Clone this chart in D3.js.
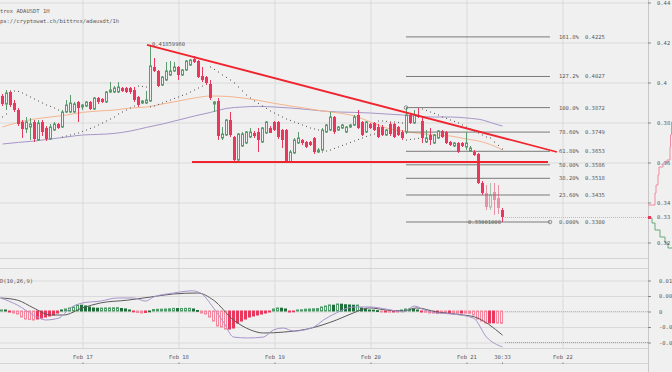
<!DOCTYPE html>
<html>
<head>
<meta charset="utf-8">
<script src="https://cdn.jsdelivr.net/npm/d3@7"></script>
<style>
  html, body { margin: 0; padding: 0; background: #f0f0f0; overflow: hidden; }
  svg { display: block; }
  text { font-family: "DejaVu Sans Mono", monospace; font-size: 5.5px; fill: #5a5a5a; }
</style>
</head>
<body>
<svg id="chart" width="672" height="372"></svg>
<script>
// hourly candles, first one is Feb 16 04:00 (hour -20 from Feb 17 00:00)
const firstHour = -20;
// [open, high, low, close]
const ohlc = [
  [0.393,0.394,0.388,0.389],[0.389,0.396,0.386,0.3945],[0.395,0.3955,0.3875,0.3885],[0.3895,0.391,0.385,0.386],
  [0.386,0.387,0.378,0.379],[0.380,0.381,0.372,0.3765],[0.3765,0.3825,0.3745,0.380],[0.3775,0.382,0.371,0.379],
  [0.380,0.381,0.370,0.3715],[0.371,0.381,0.3705,0.3795],[0.380,0.381,0.373,0.375],[0.377,0.378,0.3705,0.3715],
  [0.3715,0.379,0.371,0.3775],[0.376,0.380,0.3755,0.379],[0.379,0.3795,0.3765,0.377],[0.3775,0.386,0.377,0.385],
  [0.385,0.391,0.3845,0.3885],[0.385,0.3935,0.3845,0.3895],[0.385,0.390,0.3845,0.389],[0.390,0.3905,0.380,0.387],
  [0.3875,0.389,0.386,0.3885],[0.388,0.3905,0.3875,0.390],[0.390,0.3905,0.386,0.3865],[0.3865,0.3925,0.386,0.392],
  [0.392,0.3925,0.389,0.390],[0.3915,0.392,0.3895,0.390],[0.390,0.3955,0.3895,0.395],[0.395,0.400,0.3945,0.396],
  [0.395,0.398,0.3945,0.397],[0.395,0.400,0.3945,0.3975],[0.397,0.3975,0.395,0.3955],[0.397,0.3975,0.3945,0.395],
  [0.397,0.3975,0.394,0.395],[0.396,0.3975,0.390,0.391],[0.3925,0.393,0.3875,0.3885],[0.3895,0.391,0.389,0.3905],
  [0.3895,0.3955,0.389,0.391],[0.3905,0.4186,0.390,0.408],[0.4075,0.412,0.405,0.4055],[0.4055,0.406,0.3975,0.398],
  [0.3985,0.403,0.398,0.4025],[0.401,0.410,0.4005,0.4055],[0.4035,0.4105,0.403,0.4055],[0.4055,0.410,0.405,0.4075],
  [0.4075,0.408,0.401,0.4035],[0.4035,0.4065,0.403,0.406],[0.406,0.411,0.4055,0.4105],[0.4085,0.4115,0.408,0.411],
  [0.4115,0.413,0.4095,0.410],[0.4105,0.411,0.402,0.4025],[0.403,0.4075,0.400,0.401],[0.4025,0.403,0.3985,0.3995],
  [0.399,0.401,0.391,0.392],[0.389,0.3905,0.385,0.390],[0.3905,0.392,0.371,0.373],[0.372,0.3775,0.371,0.374],
  [0.3735,0.3815,0.373,0.381],[0.381,0.385,0.3725,0.3735],[0.3725,0.373,0.360,0.361],[0.361,0.3745,0.360,0.374],
  [0.368,0.375,0.3675,0.374],[0.3695,0.3755,0.369,0.375],[0.3725,0.377,0.372,0.375],[0.3745,0.3755,0.372,0.373],
  [0.375,0.377,0.365,0.371],[0.370,0.3775,0.3695,0.377],[0.3745,0.3805,0.374,0.380],[0.377,0.378,0.3745,0.3745],
  [0.380,0.3805,0.3755,0.376],[0.380,0.3805,0.3715,0.3725],[0.376,0.3765,0.367,0.371],[0.376,0.3765,0.3595,0.360],
  [0.360,0.366,0.3595,0.365],[0.3645,0.372,0.364,0.371],[0.3695,0.375,0.369,0.372],[0.371,0.3715,0.3685,0.3695],
  [0.370,0.3705,0.367,0.3675],[0.370,0.3705,0.368,0.3685],[0.372,0.3725,0.364,0.365],[0.365,0.367,0.3645,0.366],
  [0.366,0.377,0.3655,0.376],[0.375,0.379,0.3745,0.3785],[0.376,0.385,0.3755,0.3825],[0.3825,0.383,0.374,0.375],
  [0.376,0.378,0.3755,0.3775],[0.377,0.379,0.3765,0.3785],[0.375,0.378,0.3745,0.3775],[0.3775,0.379,0.377,0.3785],
  [0.3785,0.3835,0.378,0.3825],[0.3835,0.386,0.3765,0.377],[0.380,0.3805,0.373,0.3735],[0.375,0.3805,0.3745,0.380],
  [0.379,0.3795,0.3765,0.377],[0.3795,0.380,0.3755,0.376],[0.3775,0.379,0.372,0.3725],[0.3775,0.3785,0.373,0.3735],
  [0.3735,0.3765,0.373,0.376],[0.379,0.380,0.373,0.374],[0.379,0.3795,0.372,0.3725],[0.3775,0.378,0.373,0.3735],
  [0.375,0.376,0.371,0.372],[0.375,0.387,0.374,0.3835],[0.3835,0.384,0.379,0.3795],[0.3795,0.386,0.379,0.3835],
  [0.3835,0.387,0.382,0.3825],[0.3805,0.3825,0.3695,0.372],[0.370,0.376,0.3695,0.372],[0.3735,0.377,0.3685,0.371],
  [0.3695,0.374,0.369,0.3735],[0.372,0.376,0.3715,0.3755],[0.3755,0.376,0.372,0.3725],[0.375,0.3755,0.369,0.3695],
  [0.370,0.3705,0.368,0.3685],[0.368,0.370,0.3675,0.3695],[0.3695,0.370,0.3645,0.365],[0.3695,0.370,0.3675,0.368],
  [0.3675,0.375,0.366,0.3695],[0.3655,0.368,0.365,0.367],[0.365,0.366,0.363,0.3635],[0.364,0.3645,0.349,0.3495],
  [0.3495,0.3505,0.3435,0.3445],[0.3445,0.3485,0.336,0.3375],[0.3375,0.3495,0.336,0.3435],[0.345,0.3495,0.3335,0.341],
  [0.342,0.3485,0.334,0.337],[0.336,0.337,0.330,0.3325]
];

// parabolic SAR dots, one per candle
const sar = [
  0.3825,0.384,0.3955,0.3955,0.3953,0.3945,0.3935,0.3925,0.3915,0.3905,0.3895,0.3885,0.3878,0.387,0.386,
  0.3725,0.373,0.3735,0.374,0.3745,0.3753,0.376,0.3768,0.3775,0.3785,0.3795,0.3805,0.3815,0.3825,0.384,
  0.385,0.386,0.387,0.388,0.398,0.3978,0.3975,0.3875,0.388,0.3888,0.3895,0.3903,0.391,0.3918,0.3925,
  0.3933,0.394,0.395,0.396,0.397,0.398,0.399,0.4075,0.4063,0.405,0.4035,0.4023,0.401,0.3995,0.3975,
  0.3955,0.3935,0.392,0.3905,0.3893,0.388,0.3868,0.3855,0.3845,0.3835,0.3825,0.3815,0.3808,0.380,0.3793,
  0.3785,0.3778,0.377,0.3765,0.376,0.365,0.3655,0.366,0.3668,0.3675,0.3683,0.369,0.3698,0.3705,0.3713,
  0.372,0.3728,0.3735,0.374,0.3805,0.3805,0.3803,0.380,0.380,0.3798,0.3795,0.371,0.3713,0.3715,0.3718,
  0.3865,0.3858,0.385,0.3843,0.3835,0.3825,0.3818,0.381,0.3803,0.3795,0.3785,0.3775,0.3765,0.3755,0.3745,
  0.3735,0.3725,0.372,0.370,0.3683,0.3665
];

// moving averages [hour, price]
const maFast = [
  [-20,0.3775],[-16,0.3798],[-12,0.3815],[-8,0.3825],[-4,0.3835],[0,0.3848],[4,0.3855],[8,0.386],
  [12,0.387],[16,0.3875],[20,0.389],[24,0.3905],[28,0.392],[32,0.393],[36,0.3928],[40,0.392],
  [44,0.3908],[48,0.3893],[52,0.388],[56,0.3868],[60,0.3855],[64,0.3845],[68,0.383],[72,0.380],
  [76,0.377],[80,0.3755],[84,0.3743],[88,0.3735],[92,0.373],[96,0.3715],[100,0.370],[104,0.367],[105,0.366]
];
const maSlow = [
  [-20,0.369],[-16,0.3698],[-12,0.3705],[-8,0.3715],[-4,0.3725],[0,0.3735],[4,0.3738],[8,0.3743],
  [12,0.3755],[16,0.3773],[20,0.379],[24,0.381],[28,0.383],[32,0.3848],[36,0.3868],[40,0.3875],
  [44,0.3878],[48,0.3875],[52,0.387],[56,0.3863],[60,0.3855],[64,0.385],[68,0.3848],[72,0.3845],
  [76,0.384],[80,0.3835],[84,0.3828],[88,0.3825],[92,0.3825],[96,0.382],[100,0.381],[104,0.3785],[105,0.378]
];

// MACD(10,26,9)
const macdLine = [
  [-20.5,0.0042],[-16.25,0.0019],[-12.25,-0.0013],[-9.25,-0.0029],[-6,-0.0023],[-3,0.001],[0,0.0026],
  [4.5,0.0032],[8.75,0.0042],[12.75,0.0042],[15.75,0.0032],[17.75,0.0045],[22.75,0.0058],[27.5,0.0065],
  [29.5,0.0058],[32.75,0.001],[35.25,-0.0036],[37.75,-0.0084],[41.25,-0.0087],[45.25,-0.0084],[47.75,-0.0061],
  [50.25,-0.0055],[52.75,-0.0065],[57.75,-0.0052],[60.25,-0.0029],[63.5,-0.0006],[67.75,0.0013],[71.75,0.0013],
  [76,0.0006],[80.25,-0.0003],[83,0.0016],[85.5,0.0003],[88.5,-0.0006],[92.75,-0.001],[97.75,-0.0023],
  [101,-0.0084],[105,-0.0116]
];
const signalLine = [
  [-20.5,0.0042],[-16.25,0.0035],[-12.25,0.001],[-8,-0.0013],[-4.75,-0.0013],[0,0.001],[4.5,0.0026],
  [11.25,0.0035],[17,0.0045],[22.75,0.0055],[28.75,0.0058],[32.75,0.0035],[37.75,-0.0029],[42,-0.0061],
  [45.25,-0.0071],[50.25,-0.0068],[56.25,-0.0058],[63.5,-0.0029],[67.75,-0.0006],[71.75,0.001],[76,0.0003],
  [80.25,0.0],[83.5,0.001],[88.5,-0.0003],[95.25,-0.0013],[98,-0.0019],[105,-0.0078]
];
const histogram = [
  0.00032,0.00032,-0.00032,-0.00065,-0.00097,-0.00194,-0.00258,-0.00275,-0.00291,-0.00258,-0.00226,-0.00194,
  -0.00161,-0.00129,-0.00065,0.00032,0.00065,0.00097,0.00129,0.00194,0.00187,0.00161,0.00129,0.00097,
  0.0009,0.00094,0.00097,0.001,0.00103,0.00107,0.00081,0.00065,0.00032,-0.00016,-0.00048,-0.00065,
  -0.00048,0,0.00048,0.00055,0.00058,0.00065,0.00071,0.00084,0.00078,0.00081,0.00084,0.00087,
  0.00065,0.00016,-0.00065,-0.00097,-0.00194,-0.00323,-0.00484,-0.00516,-0.00581,-0.00581,-0.00549,-0.00387,
  -0.00323,-0.00258,-0.00194,-0.00161,-0.00129,-0.00097,-0.00065,-0.00032,0.00065,0.00097,0.0009,0.00065,
  -0.00032,-0.00026,0.00032,0.00039,0.00058,0.00065,0.00071,0.00078,0.00129,0.00161,0.00194,0.00187,
  0.00226,0.0022,0.002,0.00194,0.00187,0.00191,0.00097,0.00065,0.00032,0.00026,0.0001,-0.00032,
  -0.00032,-0.00036,-0.00032,-0.00026,0.00032,0.00065,0.00071,0.00058,0.00032,-0.00032,-0.00039,-0.00065,
  -0.00068,-0.00065,-0.00068,-0.00071,-0.00065,-0.00068,-0.00071,-0.00065,-0.00068,-0.00074,-0.00129,-0.00258,
  -0.00323,-0.00387,-0.00387,-0.00381,-0.00387,-0.00397
];

// axes
const priceTicks = [0.44, 0.42, 0.40, 0.38, 0.36, 0.34, 0.32];
const priceTickLabels = ["0.44", "0.42", "0.4", "0.38", "0.36", "0.34", "0.32"];
const macdTicks = [0.01, 0.005, 0, -0.005, -0.01];
const macdTickLabels = ["0.01", "0.005", "0", "-0.005", "-0.01"];
const nowLabel = "30:33";
const lastPrice = 0.3325;
const lastPriceLabel = "0.33";

// drawings
const trendLine = [[16.25, 0.4186], [118.75, 0.365]];
const supportLine = [[27.5, 0.36], [116.5, 0.36]];
const highMark = [17, 0.4186, "0.41859960"];
const lowMark = [105, 0.3300, "0.33001000"];
const fibFrom = [81, 0.3872];
const fibTo = [117, 0.3300];
const fibRatios = [1.618, 1.272, 1.0, 0.786, 0.618, 0.5, 0.382, 0.236, 0];
const fibPercent = ["161.8%", "127.2%", "100.0%", "78.60%", "61.80%", "50.00%", "38.20%", "23.60%", "0.000%"];
const fibValues = ["0.4225", "0.4027", "0.3872", "0.3749", "0.3653", "0.3586", "0.3518", "0.3435", "0.3300"];

// order book depth strip [price, cumulative]
const asks = [[0.3385,7],[0.3445,8],[0.3485,10],[0.3535,11],[0.3575,15],[0.3595,19],[0.361,22],[0.3675,22.5],[0.3735,23.5],[0.38,26]];
const bids = [[0.332,4],[0.3295,7],[0.326,12],[0.3225,17],[0.3195,20],[0.317,24]];


const svg = d3.select("#chart");
const plotRight = 648;
const t0 = Date.UTC(2018, 1, 17);
const hourMs = 3600e3;
const tAt = h => new Date(t0 + h * hourMs);

const x = d3.scaleUtc().domain([tAt(-20.5), tAt(141.5)]).range([0, plotRight]);
const y = d3.scaleLinear().domain([0.32, 0.44]).range([242, 2]);
const ym = d3.scaleLinear().domain([-0.01, 0.01]).range([342, 280]);
const dx = d3.scaleLinear().domain([0, 24]).range([plotRight, 672]);

const red = "#e8385e", green = "#5a9a6c";
const candles = ohlc.map((d, i) => ({h: firstHour + i, o: d[0], hi: d[1], lo: d[2], c: d[3]}));

// grid
const grid = svg.append("g").attr("class", "grid");
grid.append("g").attr("transform", "translate(0,0.5)")
  .call(d3.axisLeft(y).tickValues(priceTicks).tickSize(-plotRight).tickFormat(""));
grid.append("g").attr("transform", "translate(0,0.5)")
  .call(d3.axisLeft(ym).tickValues(macdTicks).tickSize(-plotRight).tickFormat(""));
grid.append("g").attr("transform", "translate(0.5,0)")
  .call(d3.axisBottom(x).ticks(d3.utcDay.every(1)).tickSize(348).tickFormat(""));
grid.selectAll(".domain").remove();
grid.selectAll("line").attr("stroke", "#dadada");

// panel separators
[258.5, 268.5, 348.5, 363.5].forEach(py => {
  svg.append("line").attr("x1", 0).attr("x2", plotRight).attr("y1", py).attr("y2", py).attr("stroke", "#d4d4d4");
});
svg.append("line").attr("x1", plotRight + 0.5).attr("x2", plotRight + 0.5).attr("y1", 0).attr("y2", 372).attr("stroke", "#c8c8c8");

// titles
svg.append("text").attr("x", -10).attr("y", 12.5).text("Bittrex ADAUSDT 1H");
svg.append("text").attr("x", -10).attr("y", 23).text("https://cryptowat.ch/bittrex/adausdt/1h");
svg.append("text").attr("x", -10).attr("y", 283).text("MACD(10,26,9)");

// moving averages
const maLine = d3.line().x(d => x(tAt(d[0])) + 0.5).y(d => y(d[1])).curve(d3.curveMonotoneX);
svg.append("path").datum(maSlow).attr("d", maLine).attr("fill", "none").attr("stroke", "#a696c8").attr("stroke-width", 1);
svg.append("path").datum(maFast).attr("d", maLine).attr("fill", "none").attr("stroke", "#f6b48c").attr("stroke-width", 1);

// fibonacci
const fibG = svg.append("g");
const fibLevels = fibRatios.map((r, i) => ({p: fibTo[1] + (fibFrom[1] - fibTo[1]) * r, pct: fibPercent[i], val: fibValues[i]}));
fibG.selectAll("line").data(fibLevels).enter().append("line")
  .attr("x1", x(tAt(fibFrom[0]))).attr("x2", x(tAt(fibTo[0])))
  .attr("y1", d => y(d.p)).attr("y2", d => y(d.p))
  .attr("stroke", "#7a7a7a").attr("stroke-width", 1);
fibG.selectAll("text.pct").data(fibLevels).enter().append("text").attr("class", "pct")
  .attr("x", x(tAt(fibTo[0])) + 9).attr("y", d => y(d.p) + 2).text(d => d.pct);
fibG.selectAll("text.val").data(fibLevels).enter().append("text").attr("class", "val")
  .attr("x", x(tAt(fibTo[0])) + 35).attr("y", d => y(d.p) + 2).text(d => d.val);
fibG.append("circle").attr("cx", x(tAt(fibFrom[0]))).attr("cy", y(fibFrom[1])).attr("r", 1.8)
  .attr("fill", "none").attr("stroke", "#777").attr("stroke-width", 0.8);
fibG.append("circle").attr("cx", x(tAt(fibTo[0]))).attr("cy", y(fibTo[1])).attr("r", 1.8)
  .attr("fill", "none").attr("stroke", "#777").attr("stroke-width", 0.8);

// SAR dots
svg.append("g").selectAll("rect").data(sar).enter().append("rect")
  .attr("x", (d, i) => x(tAt(firstHour + i))).attr("y", d => y(d) - 0.5)
  .attr("width", 1).attr("height", 1).attr("fill", "#555");

// candles
const cg = svg.append("g").selectAll("g").data(candles).enter().append("g")
  .attr("opacity", d => d.h > 100 && d.h < 105 ? 0.5 : 1);
cg.append("line")
  .attr("x1", d => x(tAt(d.h)) + 0.5).attr("x2", d => x(tAt(d.h)) + 0.5)
  .attr("y1", d => y(d.hi)).attr("y2", d => y(d.lo))
  .attr("stroke", d => d.c >= d.o ? green : red);
cg.append("rect")
  .attr("x", d => d.c >= d.o ? x(tAt(d.h)) - 0.5 : x(tAt(d.h)) - 1)
  .attr("width", d => d.c >= d.o ? 2 : 3)
  .attr("y", d => y(Math.max(d.o, d.c)))
  .attr("height", d => Math.max(1, Math.abs(y(d.o) - y(d.c))))
  .attr("fill", d => d.c >= d.o ? "#f0f0f0" : red)
  .attr("stroke", d => d.c >= d.o ? green : "none");

// red drawings
svg.append("line")
  .attr("x1", x(tAt(trendLine[0][0]))).attr("y1", y(trendLine[0][1]))
  .attr("x2", x(tAt(trendLine[1][0]))).attr("y2", y(trendLine[1][1]))
  .attr("stroke", "#f0242e").attr("stroke-width", 1.8);
svg.append("line")
  .attr("x1", x(tAt(supportLine[0][0]))).attr("y1", y(supportLine[0][1]))
  .attr("x2", x(tAt(supportLine[1][0]))).attr("y2", y(supportLine[1][1]))
  .attr("stroke", "#f0242e").attr("stroke-width", 1.8);

svg.append("text").attr("x", x(tAt(highMark[0])) + 2).attr("y", y(highMark[1]) + 1.5).text(highMark[2]);
svg.append("text").attr("x", x(tAt(lowMark[0])) - 1).attr("y", y(lowMark[1]) + 2)
  .attr("text-anchor", "end").text(lowMark[2]);

// last price line
svg.append("line").attr("x1", x(tAt(105)) + 3).attr("x2", plotRight)
  .attr("y1", y(lastPrice) + 0.5).attr("y2", y(lastPrice) + 0.5)
  .attr("stroke", "#f2a3b4").attr("stroke-dasharray", "1,1");

// depth strip
function depthPath(rows) {
  let p = "M" + dx(0) + "," + y(rows[0][0]) + "H" + dx(rows[0][1]);
  for (let i = 1; i < rows.length; i++) p += "V" + y(rows[i][0]) + "H" + dx(rows[i][1]);
  return p;
}
svg.append("path").attr("d", depthPath(asks)).attr("fill", "none").attr("stroke", "#f08aa0");
svg.append("path").attr("d", depthPath(bids)).attr("fill", "none").attr("stroke", "#6aa878");

// price axis
const pa = svg.append("g").attr("transform", "translate(" + plotRight + ",0.5)")
  .call(d3.axisRight(y).tickValues(priceTicks).tickSize(3).tickPadding(6)
    .tickFormat((d, i) => priceTickLabels[i]));
pa.select(".domain").remove();
svg.append("rect").attr("x", plotRight).attr("y", y(lastPrice) - 1).attr("width", 3).attr("height", 3).attr("fill", red);
svg.append("text").attr("x", plotRight + 9).attr("y", y(lastPrice) + 2).text(lastPriceLabel);

// MACD histogram
const hg = svg.append("g");
hg.selectAll("rect").data(histogram).enter().append("rect")
  .attr("x", (d, i) => x(tAt(firstHour + i)) - 1.5)
  .attr("width", 2)
  .attr("y", d => Math.min(ym(d), ym(0)))
  .attr("height", d => Math.max(0.8, Math.abs(ym(d) - ym(0))))
  .each(function (d, i) {
    const prev = i > 0 ? histogram[i - 1] : 0;
    const hollow = Math.abs(d) > Math.abs(prev);
    const col = d >= 0 ? (hollow ? "#4f9a68" : "#1f6e3c") : (hollow ? "#f2879e" : "#e8385e");
    d3.select(this).attr("fill", hollow ? "#f0f0f0" : col).attr("stroke", col).attr("stroke-width", 1);
  });

const mLine = d3.line().x(d => x(tAt(d[0])) + 0.5).y(d => ym(d[1])).curve(d3.curveMonotoneX);
svg.append("path").datum(signalLine).attr("d", mLine).attr("fill", "none").attr("stroke", "#5a5a5a").attr("stroke-width", 1);
svg.append("path").datum(macdLine).attr("d", mLine).attr("fill", "none").attr("stroke", "#a894cc").attr("stroke-width", 1);

svg.append("line").attr("x1", x(tAt(105)) + 3).attr("x2", plotRight)
  .attr("y1", ym(0) + 0.5).attr("y2", ym(0) + 0.5)
  .attr("stroke", "#f2a3b4").attr("stroke-dasharray", "1,1");
svg.append("line").attr("x1", x(tAt(105)) + 3).attr("x2", plotRight)
  .attr("y1", ym(-0.01) + 0.5).attr("y2", ym(-0.01) + 0.5)
  .attr("stroke", "#a894cc").attr("stroke-dasharray", "1,1");

const ma = svg.append("g").attr("transform", "translate(" + plotRight + ",0.5)")
  .call(d3.axisRight(ym).tickValues(macdTicks).tickSize(3).tickPadding(8)
    .tickFormat((d, i) => macdTickLabels[i]));
ma.select(".domain").remove();

// time axis
const ta = svg.append("g").attr("transform", "translate(0.5,364)")
  .call(d3.axisTop(x).ticks(d3.utcDay.every(1)).tickSize(1.5).tickPadding(4)
    .tickFormat(d3.utcFormat("%b %d")));
ta.select(".domain").remove();
const nowX = x(tAt(105)) + 0.5;
svg.append("line").attr("x1", nowX).attr("x2", nowX).attr("y1", 362.5).attr("y2", 364).attr("stroke", "#888");
svg.append("text").attr("x", nowX).attr("y", 358.5).attr("text-anchor", "middle").text(nowLabel);

svg.selectAll(".tick line").filter(function () { return !this.closest(".grid"); }).attr("stroke", "#888");
svg.selectAll(".tick text").attr("fill", "#5a5a5a").style("font-size", "5.5px")
  .style("font-family", "'DejaVu Sans Mono', monospace");
</script>
</body>
</html>
